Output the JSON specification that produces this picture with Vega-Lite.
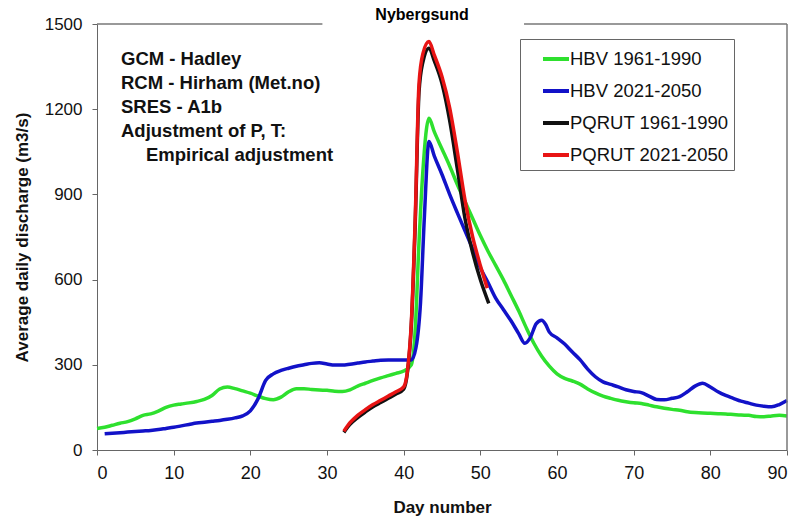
{
  "$schema": "https://vega.github.io/schema/vega-lite/v6.json",
  "width": 690,
  "height": 426,
  "autosize": {"type": "none"},
  "padding": {"left": 97, "top": 24, "right": 11, "bottom": 69},
  "background": "white",
  "config": {
    "view": {"stroke": null},
    "font": "Liberation Sans"
  },
  "title": {"text": "Nybergsund", "fontSize": 16, "fontWeight": "bold", "font": "Liberation Sans", "anchor": "middle", "dx": -20, "offset": -8, "color": "black"},
  "layer": [
    {
      "data": {"values": [
        {"day": 0, "q": 76, "series": "HBV 1961-1990"},
        {"day": 1, "q": 80, "series": "HBV 1961-1990"},
        {"day": 2, "q": 87, "series": "HBV 1961-1990"},
        {"day": 3, "q": 94, "series": "HBV 1961-1990"},
        {"day": 4, "q": 100, "series": "HBV 1961-1990"},
        {"day": 5, "q": 110, "series": "HBV 1961-1990"},
        {"day": 6, "q": 122, "series": "HBV 1961-1990"},
        {"day": 7, "q": 127, "series": "HBV 1961-1990"},
        {"day": 8, "q": 137, "series": "HBV 1961-1990"},
        {"day": 9, "q": 150, "series": "HBV 1961-1990"},
        {"day": 10, "q": 158, "series": "HBV 1961-1990"},
        {"day": 11, "q": 162, "series": "HBV 1961-1990"},
        {"day": 12, "q": 166, "series": "HBV 1961-1990"},
        {"day": 13, "q": 171, "series": "HBV 1961-1990"},
        {"day": 14, "q": 178, "series": "HBV 1961-1990"},
        {"day": 15, "q": 192, "series": "HBV 1961-1990"},
        {"day": 16, "q": 215, "series": "HBV 1961-1990"},
        {"day": 17, "q": 222, "series": "HBV 1961-1990"},
        {"day": 18, "q": 216, "series": "HBV 1961-1990"},
        {"day": 19, "q": 208, "series": "HBV 1961-1990"},
        {"day": 20, "q": 200, "series": "HBV 1961-1990"},
        {"day": 21, "q": 190, "series": "HBV 1961-1990"},
        {"day": 22, "q": 181, "series": "HBV 1961-1990"},
        {"day": 23, "q": 177, "series": "HBV 1961-1990"},
        {"day": 24, "q": 186, "series": "HBV 1961-1990"},
        {"day": 25, "q": 205, "series": "HBV 1961-1990"},
        {"day": 26, "q": 216, "series": "HBV 1961-1990"},
        {"day": 27, "q": 216, "series": "HBV 1961-1990"},
        {"day": 28, "q": 213, "series": "HBV 1961-1990"},
        {"day": 29, "q": 211, "series": "HBV 1961-1990"},
        {"day": 30, "q": 210, "series": "HBV 1961-1990"},
        {"day": 31, "q": 207, "series": "HBV 1961-1990"},
        {"day": 32, "q": 206, "series": "HBV 1961-1990"},
        {"day": 33, "q": 212, "series": "HBV 1961-1990"},
        {"day": 34, "q": 225, "series": "HBV 1961-1990"},
        {"day": 35, "q": 235, "series": "HBV 1961-1990"},
        {"day": 36, "q": 245, "series": "HBV 1961-1990"},
        {"day": 37, "q": 254, "series": "HBV 1961-1990"},
        {"day": 38, "q": 262, "series": "HBV 1961-1990"},
        {"day": 39, "q": 270, "series": "HBV 1961-1990"},
        {"day": 40, "q": 278, "series": "HBV 1961-1990"},
        {"day": 41, "q": 300, "series": "HBV 1961-1990"},
        {"day": 41.5, "q": 420, "series": "HBV 1961-1990"},
        {"day": 42, "q": 730, "series": "HBV 1961-1990"},
        {"day": 42.5, "q": 980, "series": "HBV 1961-1990"},
        {"day": 43.3, "q": 1168, "series": "HBV 1961-1990"},
        {"day": 44, "q": 1120, "series": "HBV 1961-1990"},
        {"day": 45, "q": 1060, "series": "HBV 1961-1990"},
        {"day": 46, "q": 1000, "series": "HBV 1961-1990"},
        {"day": 47, "q": 935, "series": "HBV 1961-1990"},
        {"day": 48, "q": 875, "series": "HBV 1961-1990"},
        {"day": 49, "q": 815, "series": "HBV 1961-1990"},
        {"day": 50, "q": 755, "series": "HBV 1961-1990"},
        {"day": 51, "q": 700, "series": "HBV 1961-1990"},
        {"day": 52, "q": 650, "series": "HBV 1961-1990"},
        {"day": 53, "q": 600, "series": "HBV 1961-1990"},
        {"day": 54, "q": 545, "series": "HBV 1961-1990"},
        {"day": 55, "q": 490, "series": "HBV 1961-1990"},
        {"day": 56, "q": 430, "series": "HBV 1961-1990"},
        {"day": 57, "q": 375, "series": "HBV 1961-1990"},
        {"day": 58, "q": 330, "series": "HBV 1961-1990"},
        {"day": 59, "q": 295, "series": "HBV 1961-1990"},
        {"day": 60, "q": 268, "series": "HBV 1961-1990"},
        {"day": 61, "q": 252, "series": "HBV 1961-1990"},
        {"day": 62, "q": 243, "series": "HBV 1961-1990"},
        {"day": 63, "q": 232, "series": "HBV 1961-1990"},
        {"day": 64, "q": 215, "series": "HBV 1961-1990"},
        {"day": 65, "q": 201, "series": "HBV 1961-1990"},
        {"day": 66, "q": 190, "series": "HBV 1961-1990"},
        {"day": 67, "q": 182, "series": "HBV 1961-1990"},
        {"day": 68, "q": 175, "series": "HBV 1961-1990"},
        {"day": 69, "q": 170, "series": "HBV 1961-1990"},
        {"day": 70, "q": 166, "series": "HBV 1961-1990"},
        {"day": 71, "q": 164, "series": "HBV 1961-1990"},
        {"day": 72, "q": 158, "series": "HBV 1961-1990"},
        {"day": 73, "q": 152, "series": "HBV 1961-1990"},
        {"day": 74, "q": 147, "series": "HBV 1961-1990"},
        {"day": 75, "q": 143, "series": "HBV 1961-1990"},
        {"day": 76, "q": 140, "series": "HBV 1961-1990"},
        {"day": 77, "q": 135, "series": "HBV 1961-1990"},
        {"day": 78, "q": 132, "series": "HBV 1961-1990"},
        {"day": 79, "q": 130, "series": "HBV 1961-1990"},
        {"day": 80, "q": 129, "series": "HBV 1961-1990"},
        {"day": 81, "q": 128, "series": "HBV 1961-1990"},
        {"day": 82, "q": 127, "series": "HBV 1961-1990"},
        {"day": 83, "q": 125, "series": "HBV 1961-1990"},
        {"day": 84, "q": 123, "series": "HBV 1961-1990"},
        {"day": 85, "q": 122, "series": "HBV 1961-1990"},
        {"day": 86, "q": 118, "series": "HBV 1961-1990"},
        {"day": 87, "q": 117, "series": "HBV 1961-1990"},
        {"day": 88, "q": 120, "series": "HBV 1961-1990"},
        {"day": 89, "q": 122, "series": "HBV 1961-1990"},
        {"day": 90, "q": 120, "series": "HBV 1961-1990"},

        {"day": 1, "q": 57, "series": "HBV 2021-2050"},
        {"day": 2, "q": 59, "series": "HBV 2021-2050"},
        {"day": 3, "q": 61, "series": "HBV 2021-2050"},
        {"day": 4, "q": 63, "series": "HBV 2021-2050"},
        {"day": 5, "q": 65, "series": "HBV 2021-2050"},
        {"day": 6, "q": 67, "series": "HBV 2021-2050"},
        {"day": 7, "q": 69, "series": "HBV 2021-2050"},
        {"day": 8, "q": 72, "series": "HBV 2021-2050"},
        {"day": 9, "q": 76, "series": "HBV 2021-2050"},
        {"day": 10, "q": 80, "series": "HBV 2021-2050"},
        {"day": 11, "q": 85, "series": "HBV 2021-2050"},
        {"day": 12, "q": 90, "series": "HBV 2021-2050"},
        {"day": 13, "q": 95, "series": "HBV 2021-2050"},
        {"day": 14, "q": 98, "series": "HBV 2021-2050"},
        {"day": 15, "q": 101, "series": "HBV 2021-2050"},
        {"day": 16, "q": 104, "series": "HBV 2021-2050"},
        {"day": 17, "q": 108, "series": "HBV 2021-2050"},
        {"day": 18, "q": 113, "series": "HBV 2021-2050"},
        {"day": 19, "q": 120, "series": "HBV 2021-2050"},
        {"day": 20, "q": 138, "series": "HBV 2021-2050"},
        {"day": 21, "q": 180, "series": "HBV 2021-2050"},
        {"day": 22, "q": 245, "series": "HBV 2021-2050"},
        {"day": 23, "q": 268, "series": "HBV 2021-2050"},
        {"day": 24, "q": 280, "series": "HBV 2021-2050"},
        {"day": 25, "q": 288, "series": "HBV 2021-2050"},
        {"day": 26, "q": 295, "series": "HBV 2021-2050"},
        {"day": 27, "q": 300, "series": "HBV 2021-2050"},
        {"day": 28, "q": 305, "series": "HBV 2021-2050"},
        {"day": 29, "q": 307, "series": "HBV 2021-2050"},
        {"day": 30, "q": 303, "series": "HBV 2021-2050"},
        {"day": 31, "q": 299, "series": "HBV 2021-2050"},
        {"day": 32, "q": 299, "series": "HBV 2021-2050"},
        {"day": 33, "q": 302, "series": "HBV 2021-2050"},
        {"day": 34, "q": 306, "series": "HBV 2021-2050"},
        {"day": 35, "q": 310, "series": "HBV 2021-2050"},
        {"day": 36, "q": 313, "series": "HBV 2021-2050"},
        {"day": 37, "q": 316, "series": "HBV 2021-2050"},
        {"day": 38, "q": 317, "series": "HBV 2021-2050"},
        {"day": 39, "q": 317, "series": "HBV 2021-2050"},
        {"day": 40, "q": 317, "series": "HBV 2021-2050"},
        {"day": 41, "q": 317, "series": "HBV 2021-2050"},
        {"day": 41.6, "q": 360, "series": "HBV 2021-2050"},
        {"day": 42.2, "q": 520, "series": "HBV 2021-2050"},
        {"day": 42.7, "q": 820, "series": "HBV 2021-2050"},
        {"day": 43.3, "q": 1086, "series": "HBV 2021-2050"},
        {"day": 44, "q": 1035, "series": "HBV 2021-2050"},
        {"day": 45, "q": 970, "series": "HBV 2021-2050"},
        {"day": 46, "q": 900, "series": "HBV 2021-2050"},
        {"day": 47, "q": 835, "series": "HBV 2021-2050"},
        {"day": 48, "q": 772, "series": "HBV 2021-2050"},
        {"day": 49, "q": 708, "series": "HBV 2021-2050"},
        {"day": 50, "q": 642, "series": "HBV 2021-2050"},
        {"day": 51, "q": 590, "series": "HBV 2021-2050"},
        {"day": 52, "q": 535, "series": "HBV 2021-2050"},
        {"day": 53, "q": 495, "series": "HBV 2021-2050"},
        {"day": 54, "q": 455, "series": "HBV 2021-2050"},
        {"day": 55, "q": 410, "series": "HBV 2021-2050"},
        {"day": 55.8, "q": 376, "series": "HBV 2021-2050"},
        {"day": 56.5, "q": 395, "series": "HBV 2021-2050"},
        {"day": 57.3, "q": 445, "series": "HBV 2021-2050"},
        {"day": 58, "q": 457, "series": "HBV 2021-2050"},
        {"day": 58.5, "q": 443, "series": "HBV 2021-2050"},
        {"day": 59, "q": 415, "series": "HBV 2021-2050"},
        {"day": 60, "q": 395, "series": "HBV 2021-2050"},
        {"day": 61, "q": 373, "series": "HBV 2021-2050"},
        {"day": 62, "q": 345, "series": "HBV 2021-2050"},
        {"day": 63, "q": 318, "series": "HBV 2021-2050"},
        {"day": 64, "q": 285, "series": "HBV 2021-2050"},
        {"day": 65, "q": 258, "series": "HBV 2021-2050"},
        {"day": 66, "q": 240, "series": "HBV 2021-2050"},
        {"day": 67, "q": 231, "series": "HBV 2021-2050"},
        {"day": 68, "q": 222, "series": "HBV 2021-2050"},
        {"day": 69, "q": 212, "series": "HBV 2021-2050"},
        {"day": 70, "q": 206, "series": "HBV 2021-2050"},
        {"day": 71, "q": 202, "series": "HBV 2021-2050"},
        {"day": 72, "q": 190, "series": "HBV 2021-2050"},
        {"day": 73, "q": 178, "series": "HBV 2021-2050"},
        {"day": 74, "q": 177, "series": "HBV 2021-2050"},
        {"day": 75, "q": 182, "series": "HBV 2021-2050"},
        {"day": 76, "q": 188, "series": "HBV 2021-2050"},
        {"day": 77, "q": 205, "series": "HBV 2021-2050"},
        {"day": 78, "q": 225, "series": "HBV 2021-2050"},
        {"day": 79, "q": 235, "series": "HBV 2021-2050"},
        {"day": 80, "q": 222, "series": "HBV 2021-2050"},
        {"day": 81, "q": 205, "series": "HBV 2021-2050"},
        {"day": 82, "q": 192, "series": "HBV 2021-2050"},
        {"day": 83, "q": 182, "series": "HBV 2021-2050"},
        {"day": 84, "q": 172, "series": "HBV 2021-2050"},
        {"day": 85, "q": 165, "series": "HBV 2021-2050"},
        {"day": 86, "q": 158, "series": "HBV 2021-2050"},
        {"day": 87, "q": 154, "series": "HBV 2021-2050"},
        {"day": 88, "q": 152, "series": "HBV 2021-2050"},
        {"day": 89, "q": 160, "series": "HBV 2021-2050"},
        {"day": 90, "q": 174, "series": "HBV 2021-2050"},

        {"day": 32.2, "q": 62, "series": "PQRUT 1961-1990"},
        {"day": 33, "q": 90, "series": "PQRUT 1961-1990"},
        {"day": 34, "q": 114, "series": "PQRUT 1961-1990"},
        {"day": 35, "q": 134, "series": "PQRUT 1961-1990"},
        {"day": 36, "q": 152, "series": "PQRUT 1961-1990"},
        {"day": 37, "q": 167, "series": "PQRUT 1961-1990"},
        {"day": 38, "q": 182, "series": "PQRUT 1961-1990"},
        {"day": 39, "q": 197, "series": "PQRUT 1961-1990"},
        {"day": 40, "q": 214, "series": "PQRUT 1961-1990"},
        {"day": 40.5, "q": 275, "series": "PQRUT 1961-1990"},
        {"day": 41, "q": 440, "series": "PQRUT 1961-1990"},
        {"day": 41.5, "q": 790, "series": "PQRUT 1961-1990"},
        {"day": 42, "q": 1260, "series": "PQRUT 1961-1990"},
        {"day": 42.5, "q": 1365, "series": "PQRUT 1961-1990"},
        {"day": 43.3, "q": 1415, "series": "PQRUT 1961-1990"},
        {"day": 44, "q": 1370, "series": "PQRUT 1961-1990"},
        {"day": 45, "q": 1290, "series": "PQRUT 1961-1990"},
        {"day": 46, "q": 1160, "series": "PQRUT 1961-1990"},
        {"day": 47, "q": 990, "series": "PQRUT 1961-1990"},
        {"day": 48, "q": 815, "series": "PQRUT 1961-1990"},
        {"day": 49, "q": 695, "series": "PQRUT 1961-1990"},
        {"day": 50, "q": 600, "series": "PQRUT 1961-1990"},
        {"day": 51.1, "q": 516, "series": "PQRUT 1961-1990"},

        {"day": 32.2, "q": 66, "series": "PQRUT 2021-2050"},
        {"day": 33, "q": 96, "series": "PQRUT 2021-2050"},
        {"day": 34, "q": 122, "series": "PQRUT 2021-2050"},
        {"day": 35, "q": 142, "series": "PQRUT 2021-2050"},
        {"day": 36, "q": 160, "series": "PQRUT 2021-2050"},
        {"day": 37, "q": 175, "series": "PQRUT 2021-2050"},
        {"day": 38, "q": 190, "series": "PQRUT 2021-2050"},
        {"day": 39, "q": 205, "series": "PQRUT 2021-2050"},
        {"day": 40, "q": 222, "series": "PQRUT 2021-2050"},
        {"day": 40.5, "q": 280, "series": "PQRUT 2021-2050"},
        {"day": 41, "q": 450, "series": "PQRUT 2021-2050"},
        {"day": 41.5, "q": 810, "series": "PQRUT 2021-2050"},
        {"day": 42, "q": 1290, "series": "PQRUT 2021-2050"},
        {"day": 42.5, "q": 1395, "series": "PQRUT 2021-2050"},
        {"day": 43.3, "q": 1438, "series": "PQRUT 2021-2050"},
        {"day": 44, "q": 1390, "series": "PQRUT 2021-2050"},
        {"day": 45, "q": 1314, "series": "PQRUT 2021-2050"},
        {"day": 46, "q": 1205, "series": "PQRUT 2021-2050"},
        {"day": 47, "q": 1050, "series": "PQRUT 2021-2050"},
        {"day": 48, "q": 880, "series": "PQRUT 2021-2050"},
        {"day": 49, "q": 750, "series": "PQRUT 2021-2050"},
        {"day": 50, "q": 650, "series": "PQRUT 2021-2050"},
        {"day": 50.9, "q": 570, "series": "PQRUT 2021-2050"}
      ]},
      "mark": {"type": "line", "strokeWidth": 3.5, "interpolate": "monotone"},
      "encoding": {
        "x": {"field": "day", "type": "quantitative",
          "scale": {"domain": [0, 90], "nice": false},
          "axis": {"values": [0, 10, 20, 30, 40, 50, 60, 70, 80, 90], "title": "Day number",
            "grid": false, "domainColor": "#666", "tickColor": "#666", "tickSize": 5,
            "labelFont": "Liberation Sans", "labelFontSize": 18, "labelColor": "#111", "labelPadding": 9,
            "titleFont": "Liberation Sans", "titleFontSize": 17, "titleFontWeight": "bold", "titleColor": "#111", "titlePadding": 17}},
        "y": {"field": "q", "type": "quantitative",
          "scale": {"domain": [0, 1500], "nice": false},
          "axis": {"values": [0, 300, 600, 900, 1200, 1500], "format": "d", "title": "Average daily discharge (m3/s)",
            "grid": false, "domainColor": "#666", "tickColor": "#666", "tickSize": 5,
            "labelFont": "Liberation Sans", "labelFontSize": 17, "labelColor": "#111", "labelPadding": 10,
            "titleFont": "Liberation Sans", "titleFontSize": 17, "titleFontWeight": "bold", "titleColor": "#111", "titlePadding": 13}},
        "color": {"field": "series", "type": "nominal",
          "scale": {"domain": ["HBV 1961-1990", "HBV 2021-2050", "PQRUT 1961-1990", "PQRUT 2021-2050"],
                    "range": ["#2ee02e", "#1212c8", "#111111", "#e81414"]},
          "legend": {"title": null, "orient": "none", "legendX": 423, "legendY": 15,
            "strokeColor": "#666", "fillColor": "white", "padding": 5, "symbolOffset": 16,
            "symbolType": "stroke", "symbolSize": 676, "symbolStrokeWidth": 4,
            "labelExpr": "datum.label + '\u2002\u2009'",
            "labelFont": "Liberation Sans", "labelFontSize": 18.5, "labelColor": "#111", "labelOffset": -1, "rowPadding": 7}}
      }
    },
    {
      "data": {"values": [{}]},
      "mark": {"type": "text", "align": "left", "baseline": "top", "font": "Liberation Sans", "fontSize": 18.5, "fontWeight": "bold", "color": "#111", "lineHeight": 24,
        "text": ["GCM - Hadley", "RCM - Hirham (Met.no)", "SRES - A1b", "Adjustment of P, T:"]},
      "encoding": {"x": {"datum": 3.13}, "y": {"datum": 1408}}
    },
    {
      "data": {"values": [{}]},
      "mark": {"type": "text", "align": "left", "baseline": "top", "font": "Liberation Sans", "fontSize": 18.5, "fontWeight": "bold", "color": "#111", "dx": 25, "dy": 96,
        "text": "Empirical adjustment"},
      "encoding": {"x": {"datum": 3.13}, "y": {"datum": 1408}}
    },
    {
      "data": {"values": [{}]},
      "mark": {"type": "rule", "color": "#777", "strokeWidth": 1.5},
      "encoding": {"x": {"datum": 0}, "x2": {"datum": 29.4}, "y": {"datum": 1500}}
    },
    {
      "data": {"values": [{}]},
      "mark": {"type": "rule", "color": "#777", "strokeWidth": 1.5},
      "encoding": {"x": {"datum": 55.7}, "x2": {"datum": 90}, "y": {"datum": 1500}}
    },
    {
      "data": {"values": [{}]},
      "mark": {"type": "rule", "color": "#777", "strokeWidth": 1.5},
      "encoding": {"x": {"datum": 90}, "y": {"datum": 0}, "y2": {"datum": 1500}}
    }
  ]
}
